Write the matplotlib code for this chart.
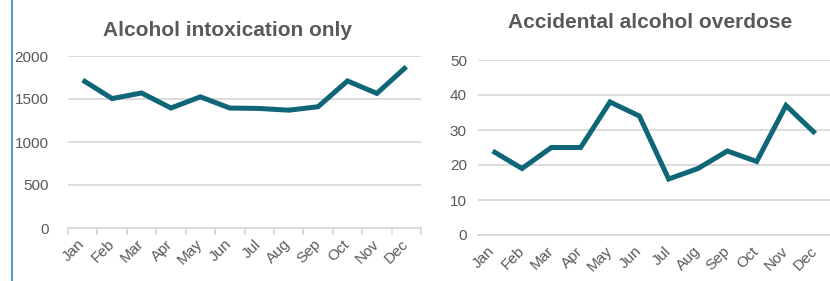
import matplotlib.pyplot as plt
from matplotlib.lines import Line2D

plt.rcParams['font.family'] = ['Liberation Sans', 'DejaVu Sans']

# 数据
months = ['Jan', 'Feb', 'Mar', 'Apr', 'May', 'Jun',
          'Jul', 'Aug', 'Sep', 'Oct', 'Nov', 'Dec']
intoxication = [1720, 1505, 1570, 1395, 1525, 1395,
                1390, 1370, 1410, 1710, 1565, 1875]
overdose = [24, 19, 25, 25, 38, 34, 16, 19, 24, 21, 37, 29]

line_color = '#0E6677'
text_color = '#595959'
grid_color = '#D9D9D9'

W, H = 830, 281
fig = plt.figure(figsize=(W / 100, H / 100), dpi=100)

def px_axes(x0, y_top, x1, y_bot):
    return fig.add_axes([x0 / W, 1 - y_bot / H, (x1 - x0) / W, (y_bot - y_top) / H])

def style(ax, values, ymax, ystep, ypad, boundary_ticks):
    x = list(range(len(months)))
    ax.plot(x, values, color=line_color, lw=3.6, solid_joinstyle='miter',
            solid_capstyle='butt', zorder=3)
    ax.set_xlim(-0.5, len(months) - 0.5)
    ax.set_ylim(0, ymax)
    ax.set_yticks(range(0, ymax + 1, ystep))
    ax.grid(axis='y', color=grid_color, lw=1.3)
    ax.set_axisbelow(True)
    for s in ['top', 'right', 'left']:
        ax.spines[s].set_visible(False)
    ax.spines['bottom'].set_color(grid_color)
    ax.spines['bottom'].set_linewidth(1.3)
    ax.tick_params(axis='y', length=0, pad=ypad, labelsize=11, labelcolor=text_color)
    ax.set_xticks(x)
    ax.set_xticklabels(months, rotation=45, ha='right', va='center',
                       rotation_mode='anchor', fontsize=11, color=text_color)
    ax.tick_params(axis='x', length=0, pad=10)
    if boundary_ticks:
        ax.set_xticks([i - 0.5 for i in range(len(months) + 1)], minor=True)
        ax.tick_params(axis='x', which='minor', length=5, color=grid_color, width=1.3)
    ax.patch.set_alpha(0)

ax1 = px_axes(68, 56, 421, 228)
style(ax1, intoxication, 2000, 500, 14, True)

ax2 = px_axes(478, 60, 830, 235)
style(ax2, overdose, 50, 10, 8, False)

fig.text(227 / W, 1 - 31 / H, 'Alcohol intoxication only', ha='center', va='center',
         fontsize=15, fontweight='bold', color=text_color)
fig.text(650 / W, 1 - 22 / H, 'Accidental alcohol overdose', ha='center', va='center',
         fontsize=15, fontweight='bold', color=text_color)

# 左侧蓝色竖线
fig.add_artist(Line2D([12 / W, 12 / W], [0, 1], color='#5B9BD5', lw=1.5))

fig.savefig('out.png', dpi=100)
